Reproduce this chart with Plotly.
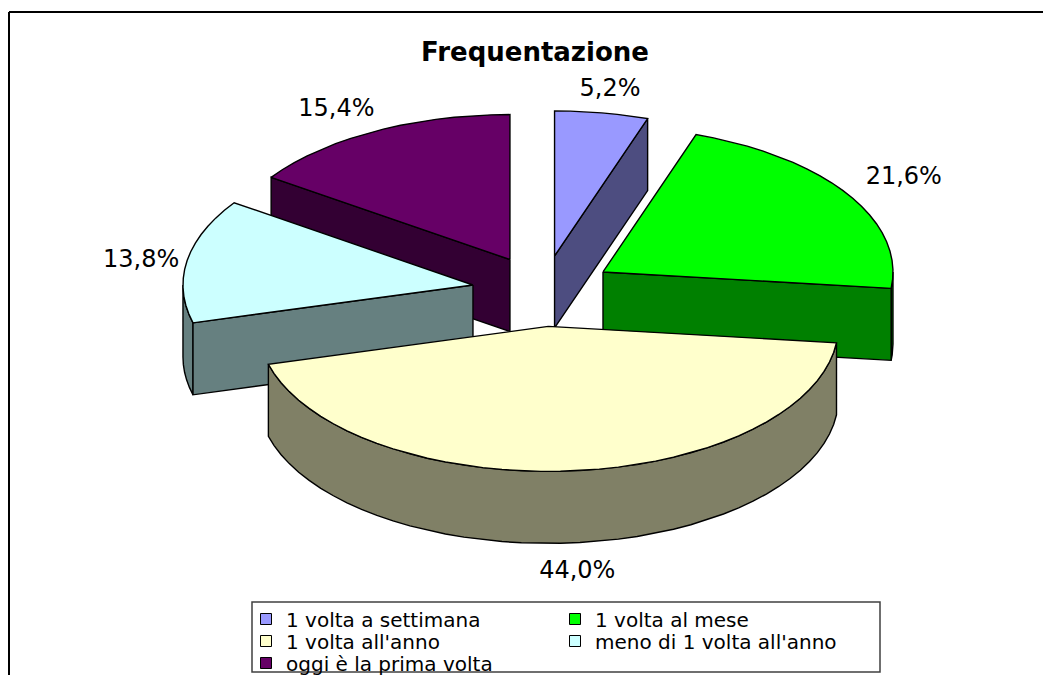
import numpy as np
import plotly.graph_objects as go

# ---------------- data ----------------
categories = ["1 volta a settimana", "1 volta al mese", "1 volta all'anno",
              "meno di 1 volta all'anno", "oggi è la prima volta"]
values = [5.2, 21.6, 44.0, 13.8, 15.4]
label_texts = [f"{v:.1f}%".replace(".", ",") for v in values]

# ---------------- style ----------------
top_colors = ["#9999FF", "#00FF00", "#FFFFCC", "#CCFFFF", "#660066"]
side_colors = ["#4D4D80", "#008000", "#808066", "#668080", "#330033"]
FONT = "DejaVu Sans"

PAGE_W, PAGE_H = 1051, 675
OFF = 8                     # default body margin of the html page
W, H = PAGE_W - OFF, PAGE_H - OFF


def px(p):                  # page x pixel -> paper fraction
    return (p - OFF) / W


def py(p):                  # page y pixel -> paper fraction
    return 1 - (p - OFF) / H


CX, CY, RX, RY = 543, 291, 290, 145
EXPLODE = 0.245
DEPTH = 72
N_ARC = 90

total = sum(values)
cum = np.concatenate([[0], np.cumsum(values)]) / total * 2 * np.pi

fig = go.Figure()


def arc(ox, oy, t0, t1, dz=0.0):
    t = np.linspace(t0, t1, max(3, int(N_ARC * (t1 - t0) / (2 * np.pi)) + 3))
    return list(ox + RX * np.sin(t)), list(oy - RY * np.cos(t) + dz)


def poly(xs, ys, color):
    fig.add_trace(go.Scatter(
        x=xs + [xs[0]], y=ys + [ys[0]], mode="lines", fill="toself",
        fillcolor=color, line=dict(color="black", width=1.4),
        hoverinfo="skip", showlegend=False))


slices = []
for i in range(len(values)):
    a0, a1 = cum[i], cum[i + 1]
    mid = (a0 + a1) / 2
    ox = CX + EXPLODE * RX * np.sin(mid)
    oy = CY - EXPLODE * RY * np.cos(mid)
    slices.append((i, a0, a1, mid, ox, oy))

# paint from back to front
for i, a0, a1, mid, ox, oy in sorted(slices, key=lambda s: -np.cos(s[3])):
    w0, w1 = max(a0, np.pi / 2), min(a1, 3 * np.pi / 2)
    if w1 > w0:
        xt, yt = arc(ox, oy, w0, w1)
        xb, yb = arc(ox, oy, w0, w1, DEPTH)
        poly(xt + xb[::-1], yt + yb[::-1], side_colors[i])
    if np.sin(a0) < -1e-6:
        ex, ey = ox + RX * np.sin(a0), oy - RY * np.cos(a0)
        poly([ox, ex, ex, ox], [oy, ey, ey + DEPTH, oy + DEPTH], side_colors[i])
    if np.sin(a1) > 1e-6:
        ex, ey = ox + RX * np.sin(a1), oy - RY * np.cos(a1)
        poly([ox, ex, ex, ox], [oy, ey, ey + DEPTH, oy + DEPTH], side_colors[i])
    xt, yt = arc(ox, oy, a0, a1)
    poly([ox] + xt, [oy] + yt, top_colors[i])

# data labels
lx, ly, lpos = [], [], []
GAP = 14
for i, a0, a1, mid, ox, oy in slices:
    s, c = np.sin(mid), np.cos(mid)
    dz = DEPTH if c < -0.3 else 0
    lx.append(ox + (RX + GAP) * s + 6)
    ly.append(oy - (RY + GAP) * c + dz + 3)
    h = "left" if s < -0.3 else ("right" if s > 0.3 else "center")
    v = "top" if c > 0.3 else ("bottom" if c < -0.3 else "middle")
    lpos.append(f"{v} {h}")
fig.add_trace(go.Scatter(x=lx, y=ly, mode="text", text=label_texts,
                         textposition=lpos, cliponaxis=False,
                         textfont=dict(family=FONT, size=24, color="black"),
                         hoverinfo="skip", showlegend=False))

# legend entries: one legend per entry, arranged in a 2-column grid
legend_ids = ["legend", "legend2", "legend3", "legend4", "legend5"]
grid_col = [0, 1, 0, 1, 0]
grid_row = [0, 0, 1, 1, 2]
col_x = [246, 555]
row_y = [619, 641, 663]
legend_layout = {}
for i, cat in enumerate(categories):
    fig.add_trace(go.Scatter(
        x=[None], y=[None], mode="markers", name=cat,
        marker=dict(symbol="square", size=11, color=top_colors[i],
                    line=dict(color="black", width=1)),
        legend=legend_ids[i], showlegend=True))
    legend_layout[legend_ids[i]] = dict(
        x=px(col_x[grid_col[i]]), y=py(row_y[grid_row[i]]),
        xanchor="left", yanchor="middle", bgcolor="rgba(0,0,0,0)",
        borderwidth=0, font=dict(family=FONT, size=20, color="black"))

fig.update_layout(
    width=W, height=H, margin=dict(l=0, r=0, t=0, b=0, autoexpand=False),
    paper_bgcolor="white", plot_bgcolor="white",
    xaxis=dict(range=[OFF, PAGE_W], visible=False, fixedrange=True),
    yaxis=dict(range=[PAGE_H, OFF], visible=False, fixedrange=True),
    title=dict(text="<b>Frequentazione</b>", x=px(535), xanchor="center",
               y=py(52), yanchor="middle",
               font=dict(family=FONT, size=26, color="black")),
    shapes=[
        dict(type="line", xref="paper", yref="paper", x0=px(9), x1=px(9),
             y0=py(12), y1=py(PAGE_H + 5), line=dict(color="black", width=2)),
        dict(type="line", xref="paper", yref="paper", x0=px(9), x1=px(PAGE_W + 5),
             y0=py(12), y1=py(12), line=dict(color="black", width=2)),
        dict(type="rect", xref="paper", yref="paper", x0=px(252), x1=px(880),
             y0=py(602), y1=py(672), line=dict(color="#404040", width=1.5)),
    ],
    **legend_layout,
)

fig.write_html("out.html")
